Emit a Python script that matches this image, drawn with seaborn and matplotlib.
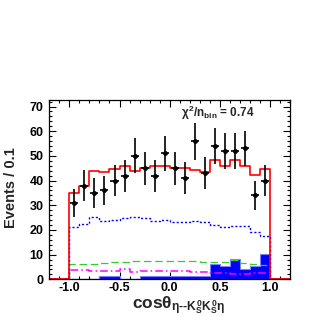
import numpy as np
import pandas as pd
import matplotlib
matplotlib.use("Agg")
import matplotlib.pyplot as plt
import seaborn as sns
from matplotlib.ticker import MultipleLocator

# Bin layout: 20 bins of width 0.1 on [-1, 1]
bin_lo = -1.0
bin_width = 0.1
n_bins = 20

# Data points (events per bin)
data_counts = [31, 38, 35, 36, 40, 42, 50, 45, 42, 51,
               45, 41, 56, 43, 54, 52, 52, 53, 34, 40]

# Fit components per bin
total_fit = [34.9, 38.0, 43.9, 43.4, 44.6, 45.9, 43.9, 45.0, 45.9, 45.9,
             45.0, 45.0, 44.3, 43.5, 48.4, 45.9, 48.4, 45.9, 42.2, 44.8]
blue_dotted = [21.3, 22.4, 25.4, 23.6, 24.0, 24.7, 25.4, 24.7, 23.6, 24.0,
               23.2, 23.1, 23.6, 23.4, 22.0, 21.3, 21.6, 21.7, 19.3, 17.7]
green_dashed = [6.2, 6.2, 6.3, 6.5, 6.9, 7.2, 7.4, 7.4, 7.4, 7.4,
                7.4, 7.4, 7.4, 7.2, 7.0, 7.0, 8.0, 6.8, 6.2, 5.8]
magenta_dashdot = [3.6, 3.6, 3.4, 3.3, 3.2, 4.0, 3.0, 3.4, 3.5, 3.2,
                   3.5, 3.4, 2.8, 2.8, 2.6, 2.6, 2.0, 2.0, 2.4, 2.6]
blue_filled = [0, 0, 0, 1.3, 1.3, 0, 0, 1.3, 1.3, 1.3,
               1.3, 1.3, 1.3, 1.3, 6.2, 5.4, 8.2, 4.2, 5.4, 10.3]

x_ticks = [-1.0, -0.5, 0.0, 0.5, 1.0]
y_ticks = [0, 10, 20, 30, 40, 50, 60, 70]

# Histogram table, padded with empty bins out to the axis range
centers = np.round(np.arange(-1.15, 1.2, bin_width), 3)
pad = [0, 0]
df = pd.DataFrame({
    "x": centers,
    "total": pad + total_fit + pad,
    "dotted": pad + blue_dotted + pad,
    "dashed": pad + green_dashed + pad,
    "dashdot": pad + magenta_dashdot + pad,
    "filled": pad + blue_filled + pad,
})
hist_kws = dict(data=df, x="x", bins=n_bins + 4, binrange=(-1.2, 1.2),
                element="step")

sns.set_style("ticks")
plt.rcParams["font.family"] = ["Liberation Sans", "DejaVu Sans"]
plt.rcParams["font.weight"] = "bold"
plt.rcParams["mathtext.fontset"] = "custom"
plt.rcParams["mathtext.rm"] = "Liberation Sans:bold"
plt.rcParams["mathtext.it"] = "Liberation Sans:bold"
plt.rcParams["mathtext.bf"] = "Liberation Sans:bold"

fig = plt.figure(figsize=(3.16, 3.16), dpi=100)
ax = fig.add_axes([0.156, 0.116, 0.762, 0.568])

# filled component first, then line components
sns.histplot(weights="filled", fill=True, color="#0000ff",
             edgecolor="#8080ff", alpha=1, linewidth=0.8, ax=ax, **hist_kws)
sns.histplot(weights="dashdot", fill=False, color="#ff00ff",
             linestyle=(0, (5, 2, 1, 2)), linewidth=1.1, ax=ax, **hist_kws)
sns.histplot(weights="dashed", fill=False, color="#33cc33",
             linestyle=(0, (6, 3)), linewidth=0.9, ax=ax, **hist_kws)
sns.histplot(weights="dotted", fill=False, color="#0000ff",
             linestyle=(0, (1.5, 1.5)), linewidth=1.0, ax=ax, **hist_kws)
sns.histplot(weights="total", fill=False, color="#ff0000", linewidth=1.2,
             ax=ax, **hist_kws)

# data with Poisson errors
data_x = bin_lo + bin_width * (np.arange(n_bins) + 0.5)
counts = np.array(data_counts, dtype=float)
ax.errorbar(data_x, counts, yerr=np.sqrt(counts), xerr=0.04, fmt="o",
            ms=2.5, color="black", elinewidth=1.2, capsize=0, zorder=5)

ax.set_xlim(-1.2, 1.2)
ax.set_ylim(0, 72.7)
ax.set_xticks(x_ticks)
ax.set_xticklabels([f"{t:.1f}" for t in x_ticks])
ax.set_yticks(y_ticks)
ax.xaxis.set_minor_locator(MultipleLocator(0.1))
ax.yaxis.set_minor_locator(MultipleLocator(2))
ax.tick_params(which="both", direction="in", top=True, right=True,
               width=0.8, colors="black", labelsize=9)
ax.tick_params(which="major", length=5)
ax.tick_params(which="minor", length=2.5)
ax.tick_params(axis="x", pad=2)
ax.tick_params(axis="y", pad=4)
for sp in ax.spines.values():
    sp.set_linewidth(0.9)
    sp.set_color("black")

ax.set_ylabel("Events / 0.1", fontsize=10.5, fontweight="bold")
ax.yaxis.set_label_coords(-0.13, 0.51)
ax.set_xlabel(r"cos$\theta_{\eta\text{--}K^0_SK^0_S\eta}$", fontsize=12.5,
              fontweight="bold")
ax.xaxis.set_label_coords(0.535, -0.085)

ax.text(0.70, 0.925, r"$\chi^2/n_{bin}$ = 0.74", transform=ax.transAxes,
        ha="center", va="center", fontsize=8.5, fontweight="bold")

fig.savefig("out.png", dpi=100)
